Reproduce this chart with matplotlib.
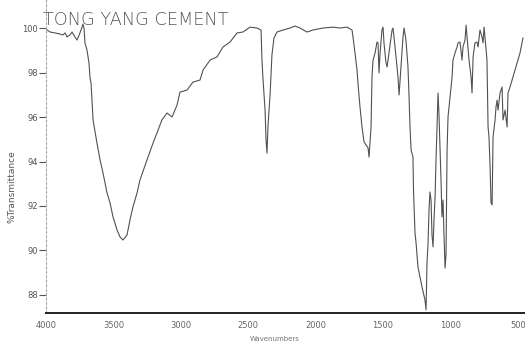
import matplotlib
matplotlib.use("Agg")
import matplotlib.pyplot as plt

# Wavenumber (cm-1) and %Transmittance
wavenumber = [4000, 3970, 3933, 3896, 3874, 3859, 3844, 3822, 3807, 3785, 3770, 3748, 3733, 3726, 3718,
              3711, 3696, 3688, 3681, 3674, 3666, 3659, 3651, 3622, 3599, 3577, 3547, 3525, 3503, 3473,
              3451, 3429, 3399, 3377, 3355, 3325, 3303, 3251, 3206, 3177, 3140, 3102, 3065, 3028, 3006,
              2954, 2910, 2858, 2835, 2783, 2732, 2687, 2635, 2583, 2539, 2487, 2435, 2405, 2398, 2390,
              2375, 2368, 2361, 2353, 2338, 2324, 2309, 2287, 2242, 2190, 2153, 2116, 2064, 2020, 1945,
              1871, 1819, 1767, 1730, 1723, 1708, 1693, 1686, 1671, 1656, 1641, 1611, 1604, 1589, 1585,
              1582, 1574, 1559, 1545, 1537, 1530, 1522, 1508, 1500, 1493, 1478, 1470, 1456, 1433, 1426,
              1411, 1396, 1389, 1381, 1367, 1352, 1344, 1330, 1315, 1307, 1300, 1292, 1278, 1274, 1263,
              1255, 1241, 1211, 1189, 1181, 1174, 1166, 1159, 1152, 1144, 1137, 1129, 1122, 1114, 1107,
              1100, 1092, 1085, 1077, 1070, 1063, 1055, 1048, 1040, 1033, 1025, 1018, 1003, 988, 981,
              966, 951, 944, 929, 914, 907, 892, 884, 877, 862, 847, 840, 832, 818, 803,
              795, 781, 766, 758, 751, 744, 729, 721, 714, 706, 699, 691, 684, 669, 662,
              654, 647, 632, 617, 610, 595, 580, 573, 558, 536, 506, 484, 462]
transmittance = [99.95, 99.82, 99.78, 99.73, 99.69, 99.78, 99.60, 99.69, 99.82, 99.60, 99.46, 99.78, 100.04, 100.18, 100.0,
                 99.33, 99.01, 98.70, 98.43, 97.80, 97.53, 96.76, 95.87, 94.83, 94.07, 93.48, 92.58, 92.14, 91.51, 90.92,
                 90.61, 90.47, 90.70, 91.37, 91.96, 92.58, 93.17, 94.07, 94.83, 95.28, 95.87, 96.18, 96.00, 96.54, 97.12,
                 97.21, 97.57, 97.66, 98.11, 98.56, 98.70, 99.15, 99.37, 99.78, 99.82, 100.04, 100.0, 99.91, 98.56, 97.66,
                 96.31, 94.97, 94.38, 95.64, 96.99, 98.79, 99.55, 99.82, 99.91, 100.0, 100.09, 100.0, 99.82, 99.91, 100.0,
                 100.04, 100.0, 100.04, 99.91, 99.60, 98.88, 98.11, 97.53, 96.45, 95.55, 94.88, 94.61, 94.20, 95.55, 96.90,
                 97.80, 98.56, 98.88, 99.37, 99.33, 97.98, 98.88, 99.91, 100.04, 99.33, 98.43, 98.25, 98.88, 99.91, 100.0,
                 99.15, 98.25, 97.80, 96.99, 98.25, 99.60, 100.0, 99.46, 98.25, 96.90, 95.55, 94.52, 94.20, 92.72, 90.79,
                 90.34, 89.26, 88.36, 87.78, 87.33, 89.44, 90.34, 91.82, 92.63, 92.27, 90.70, 90.16, 91.37, 92.41, 94.07,
                 95.42, 97.08, 96.09, 94.52, 93.17, 91.51, 92.27, 90.70, 89.21, 89.80, 94.52, 96.00, 96.90, 97.80, 98.56,
                 98.88, 99.15, 99.33, 99.37, 98.56, 99.15, 99.46, 100.13, 99.60, 98.56, 97.80, 97.08, 98.70, 99.33, 99.37,
                 99.15, 99.91, 99.60, 99.33, 100.04, 99.60, 98.56, 95.55, 95.10, 93.75, 92.14, 92.05, 95.10, 95.87, 96.45,
                 96.76, 96.31, 97.08, 97.35, 95.87, 96.31, 95.55, 97.08, 97.35, 97.80, 98.43, 98.88, 99.55]

x_ticks = [4000, 3500, 3000, 2500, 2000, 1500, 1000, 500]
x_tick_labels = ["4000", "3500", "3000", "2500", "2000", "1500", "1000", "500"]
y_ticks = [100, 98, 96, 94, 92, 90, 88]
y_tick_labels = ["100", "98", "96", "94", "92", "90", "88"]
title_text = "TONG YANG CEMENT"
x_label = "Wavenumbers"
y_label = "%Transmittance"

W, H = 525, 349
fig = plt.figure(figsize=(W / 100, H / 100), dpi=100)
ax = fig.add_axes([46 / W, 1 - 313 / H, 1 - 46 / W, 313 / H])

ax.plot(wavenumber, transmittance, color="#333333", lw=0.8, alpha=0.85)

ax.set_xlim(4000, 447)
ax.set_ylim(87.19, 101.26)

ax.set_xticks(x_ticks)
ax.set_xticklabels(x_tick_labels, fontsize=6, color="#666666")
ax.set_yticks(y_ticks)
ax.set_yticklabels(y_tick_labels, fontsize=6, color="#555555")
ax.tick_params(axis="x", length=0, pad=6)
ax.tick_params(axis="y", length=5, width=0.8, color="#555555", pad=1)

for s in ["top", "right"]:
    ax.spines[s].set_visible(False)
ax.spines["left"].set_linestyle((0, (2, 2)))
ax.spines["left"].set_color("#aaaaaa")
ax.spines["left"].set_linewidth(0.8)
ax.spines["bottom"].set_color("#222222")
ax.spines["bottom"].set_linewidth(1.4)

fig.text(275 / W, 1 - 339 / H, x_label, fontsize=5, color="#777777", ha="center", va="center")
fig.text(12 / W, 1 - 187 / H, y_label, fontsize=6.5, color="#555555", ha="center", va="center", rotation=90)
fig.text(43 / W, 1 - 25 / H, title_text, fontsize=12.8, color="#555555", ha="left", va="baseline",
         fontweight="light", family="DejaVu Sans")

fig.savefig("out.png", dpi=100)
